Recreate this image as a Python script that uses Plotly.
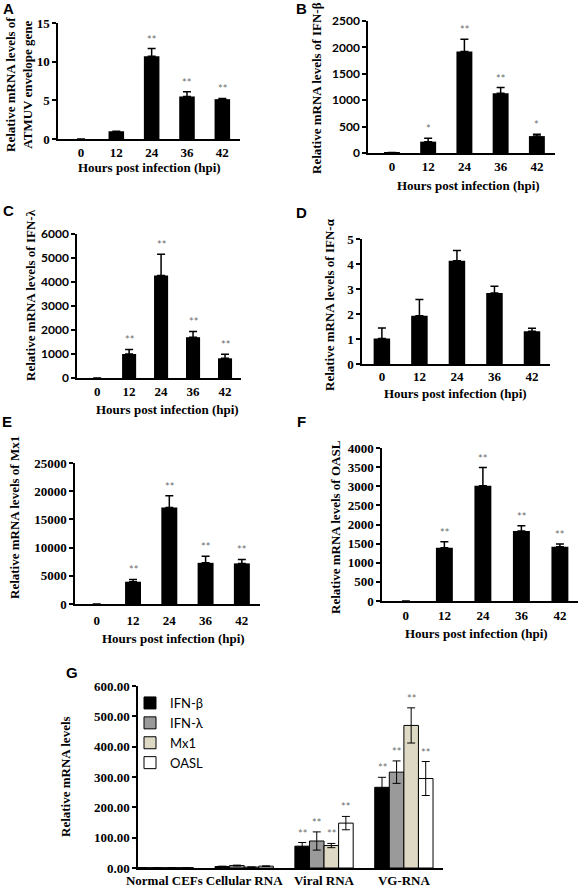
import plotly.graph_objects as go

W, H = 581, 888

# ---------------- data ----------------
hpi = ["0", "12", "24", "36", "42"]

atmuv = [0, 1.0, 10.7, 5.5, 5.15]
atmuv_err = [0, 0, 1.0, 0.6, 0.1]
atmuv_sig = ["", "", "**", "**", "**"]

ifnb = [10, 215, 1920, 1130, 320]
ifnb_err = [0, 65, 235, 110, 35]
ifnb_sig = ["", "*", "**", "**", "*"]

ifnl = [0, 1000, 4270, 1700, 820]
ifnl_err = [0, 190, 890, 240, 170]
ifnl_sig = ["", "**", "**", "**", "**"]

ifna = [1.02, 1.93, 4.13, 2.84, 1.31]
ifna_err = [0.42, 0.65, 0.41, 0.27, 0.12]
ifna_sig = ["", "", "", "", ""]

mx1 = [0, 3950, 17100, 7300, 7200]
mx1_err = [0, 400, 2100, 1150, 700]
mx1_sig = ["", "**", "**", "**", "**"]

oasl = [0, 1390, 3010, 1830, 1420]
oasl_err = [0, 160, 480, 140, 70]
oasl_sig = ["", "**", "**", "**", "**"]

g_cats = ["Normal CEFs", "Cellular RNA", "Viral RNA", "VG-RNA"]
g_names = ["IFN-β", "IFN-λ", "Mx1", "OASL"]
g_ifnb = [1.0, 5.0, 72, 266]
g_ifnb_err = [0.3, 1.0, 12, 33]
g_ifnl = [1.0, 8.0, 89, 316]
g_ifnl_err = [0.3, 1.5, 30, 37]
g_mx1 = [1.0, 3.0, 74, 470]
g_mx1_err = [0.3, 0.5, 7, 58]
g_oasl = [1.0, 6.0, 148, 295]
g_oasl_err = [0.3, 1.0, 22, 56]
g_sig = ["", "", "**", "**"]

# ---------------- styling ----------------
SERIF = "Liberation Serif"
SANS = "Lato"
LETTER = "Liberation Sans"
STAR_COLOR = "#6e6e6e"

def px_x(v):
    return v / W

def px_y(v):
    return 1 - v / H

fig = go.Figure()
annotations = []
layout_axes = {}

panels = [
    dict(n=1, v=atmuv, e=atmuv_err, s=atmuv_sig, letter="A", x0=58, x1=240, yt=23, yb=139,
         ymax=15, dtick=5, xr=(-0.65, 4.5), yfam=SERIF, xtl=1,
         ytitle="Relative mRNA levels of<br>ATMUV envelope gene", ytp=(19, 85),
         xtp=(149, 167), lp=(8, 8)),
    dict(n=2, v=ifnb, e=ifnb_err, s=ifnb_sig, letter="B", x0=368, x1=555, yt=21, yb=153,
         ymax=2500, dtick=500, xr=(-0.66, 4.5), yfam=SANS, xtl=1,
         ytitle="Relative mRNA levels of IFN-β", ytp=(317, 88),
         xtp=(468, 185), lp=(301, 8)),
    dict(n=3, v=ifnl, e=ifnl_err, s=ifnl_sig, letter="C", x0=77, x1=241, yt=234, yb=378,
         ymax=6000, dtick=1000, xr=(-0.63, 4.5), yfam=SANS, xtl=1,
         ytitle="Relative mRNA levels of IFN-λ", ytp=(30, 295),
         xtp=(167, 409), lp=(8, 211)),
    dict(n=4, v=ifna, e=ifna_err, s=ifna_sig, letter="D", x0=362, x1=550, yt=239, yb=364,
         ymax=5, dtick=1, xr=(-0.53, 4.48), yfam=SERIF, xtl=0,
         ytitle="Relative mRNA levels of IFN-α", ytp=(329, 305),
         xtp=(455, 393), lp=(301, 212)),
    dict(n=5, v=mx1, e=mx1_err, s=mx1_sig, letter="E", x0=75, x1=260, yt=463, yb=604,
         ymax=25000, dtick=5000, xr=(-0.6, 4.5), yfam=SERIF, xtl=4,
         ytitle="Relative mRNA levels of Mx1", ytp=(14, 518),
         xtp=(173, 638), lp=(7, 422)),
    dict(n=6, v=oasl, e=oasl_err, s=oasl_sig, letter="F", x0=382, x1=578, yt=448, yb=601,
         ymax=4000, dtick=500, xr=(-0.62, 4.47), yfam=SERIF, xtl=2,
         ytitle="Relative mRNA levels of OASL", ytp=(335, 527),
         xtp=(477, 633), lp=(301, 421)),
]

def axis_style(n, x0, x1, yt, yb, ymax, dtick, xr, yfam, xtl, tickformat="d"):
    xa = dict(
        domain=[px_x(x0), px_x(x1)], anchor=f"y{n}", type="category",
        range=list(xr), showline=True, linecolor="black", linewidth=1.5,
        ticks="outside" if xtl > 0 else "", ticklen=max(xtl, 1),
        tickcolor="rgba(0,0,0,0)", tickangle=0,
        tickfont=dict(family=SERIF, size=13, color="black", weight="bold"),
        showgrid=False, zeroline=False, fixedrange=True, automargin=False,
    )
    ya = dict(
        domain=[px_y(yb), px_y(yt)], anchor=f"x{n}", range=[0, ymax], dtick=dtick,
        tickformat=tickformat,
        showline=True, linecolor="black", linewidth=1.5,
        ticks="outside", ticklen=4, tickwidth=1.5, tickcolor="black",
        tickfont=dict(family=yfam, size=13 if yfam == SERIF else 12, color="black", weight="bold"),
        showgrid=False, zeroline=False, fixedrange=True, automargin=False,
    )
    key = "" if n == 1 else str(n)
    layout_axes[f"xaxis{key}"] = xa
    layout_axes[f"yaxis{key}"] = ya

for p in panels:
    n = p["n"]
    key = "" if n == 1 else str(n)
    axis_style(n, p["x0"], p["x1"], p["yt"], p["yb"], p["ymax"], p["dtick"], p["xr"], p["yfam"], p["xtl"])
    fig.add_trace(go.Bar(
        x=hpi, y=p["v"], width=0.44, marker=dict(color="black", line=dict(width=0)),
        error_y=dict(type="data", symmetric=False, array=p["e"], arrayminus=[0] * len(p["e"]),
                     color="black", thickness=1.5, width=4),
        xaxis=f"x{key}", yaxis=f"y{key}", showlegend=False, hoverinfo="skip",
    ))
    for ci, (val, er, sg) in enumerate(zip(p["v"], p["e"], p["s"])):
        if sg:
            annotations.append(dict(
                x=ci, y=val + er, xref=f"x{key}", yref=f"y{key}", text=sg, showarrow=False,
                yanchor="bottom", yshift=1,
                font=dict(family=SANS, size=11, color=STAR_COLOR),
            ))
    annotations.append(dict(
        x=px_x(p["ytp"][0]), y=px_y(p["ytp"][1]), xref="paper", yref="paper",
        text=p["ytitle"], textangle=-90, showarrow=False, xanchor="center", yanchor="middle",
        font=dict(family=SERIF, size=13, color="black", weight="bold"),
    ))
    annotations.append(dict(
        x=px_x(p["xtp"][0]), y=px_y(p["xtp"][1]), xref="paper", yref="paper",
        text="Hours post infection (hpi)", showarrow=False, xanchor="center", yanchor="middle",
        font=dict(family=SERIF, size=13, color="black", weight="bold"),
    ))
    annotations.append(dict(
        x=px_x(p["lp"][0]), y=px_y(p["lp"][1]), xref="paper", yref="paper",
        text=p["letter"], showarrow=False, xanchor="center", yanchor="middle",
        font=dict(family=LETTER, size=15, color="black", weight="bold"),
    ))

# ---------------- panel G ----------------
axis_style(7, 138, 443, 686, 868, 600, 100, (-0.33, 3.49), SERIF, 0, tickformat=".2f")
g_vals = [g_ifnb, g_ifnl, g_mx1, g_oasl]
g_errs = [g_ifnb_err, g_ifnl_err, g_mx1_err, g_oasl_err]
g_colors = ["#000000", "#9a9a9a", "#ddd9c4", "#ffffff"]
BARGAP = 0.27
bw = (1 - BARGAP) / len(g_names)
for k, (nm, vals, errs, col) in enumerate(zip(g_names, g_vals, g_errs, g_colors)):
    fig.add_trace(go.Bar(
        x=g_cats, y=vals, name=nm,
        marker=dict(color=col, line=dict(color="black", width=1)),
        error_y=dict(type="data", array=errs, color="black", thickness=1, width=4),
        xaxis="x7", yaxis="y7", hoverinfo="skip",
    ))
    for ci, (val, er, sg) in enumerate(zip(vals, errs, g_sig)):
        if sg:
            annotations.append(dict(
                x=ci + (k - 1.5) * bw, y=val + er, xref="x7", yref="y7", text=sg,
                showarrow=False, yanchor="bottom", yshift=1,
                font=dict(family=SANS, size=11, color=STAR_COLOR),
            ))

annotations.append(dict(
    x=px_x(65), y=px_y(777), xref="paper", yref="paper", text="Relative mRNA levels",
    textangle=-90, showarrow=False, xanchor="center", yanchor="middle",
    font=dict(family=SERIF, size=13, color="black", weight="bold"),
))
annotations.append(dict(
    x=px_x(72), y=px_y(672), xref="paper", yref="paper", text="G", showarrow=False,
    xanchor="center", yanchor="middle",
    font=dict(family=LETTER, size=15, color="black", weight="bold"),
))

fig.update_layout(
    width=W, height=H, margin=dict(l=0, r=0, t=0, b=0, autoexpand=False),
    paper_bgcolor="white", plot_bgcolor="white",
    barmode="group", bargap=BARGAP, bargroupgap=0,
    showlegend=True,
    legend=dict(x=px_x(130), y=px_y(688), xanchor="left", yanchor="top",
                font=dict(family=SANS, size=13, color="black"),
                bgcolor="rgba(0,0,0,0)", itemwidth=30, tracegroupgap=0),
    annotations=annotations,
    **layout_axes,
)

fig.write_html(
    "out.html",
    config={"displayModeBar": False},
    post_script="document.body.style.margin='0px';document.body.style.overflow='hidden';",
)
